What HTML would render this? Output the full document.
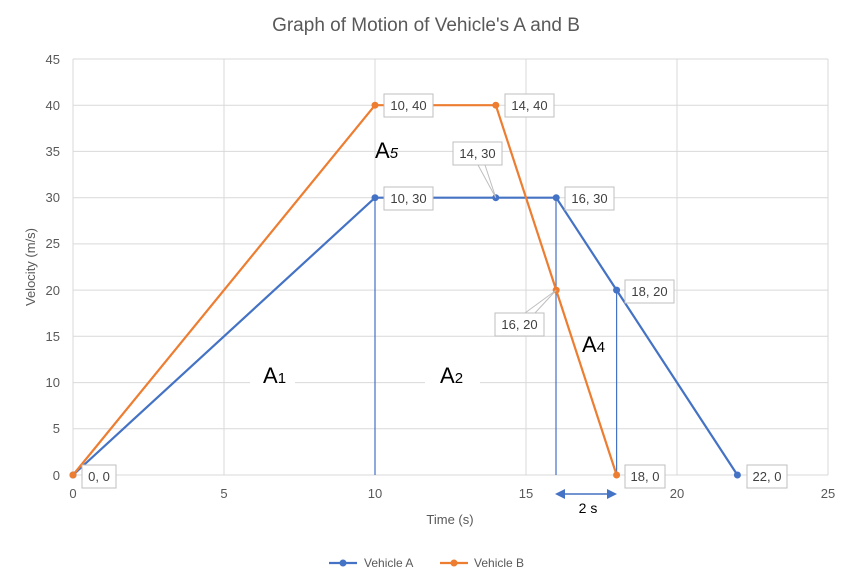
<!DOCTYPE html>
<html><head><meta charset="utf-8"><style>body{margin:0;background:#fff}svg{display:block;font-family:"Liberation Sans",sans-serif}</style></head><body>
<svg width="853" height="587" viewBox="0 0 853 587">
<rect width="853" height="587" fill="#fff"/>
<text x="426" y="31" text-anchor="middle" font-size="19" fill="#595959">Graph of Motion of Vehicle's A and B</text>
<g stroke="#d9d9d9" stroke-width="1">
<line x1="73" y1="59" x2="828" y2="59"/><line x1="73" y1="105.2" x2="828" y2="105.2"/><line x1="73" y1="151.4" x2="828" y2="151.4"/><line x1="73" y1="197.7" x2="828" y2="197.7"/><line x1="73" y1="243.9" x2="828" y2="243.9"/><line x1="73" y1="290.1" x2="828" y2="290.1"/><line x1="73" y1="336.3" x2="828" y2="336.3"/><line x1="73" y1="382.6" x2="828" y2="382.6"/><line x1="73" y1="428.8" x2="828" y2="428.8"/><line x1="73" y1="475" x2="828" y2="475"/>
<line x1="73" y1="59" x2="73" y2="475"/><line x1="224" y1="59" x2="224" y2="475"/><line x1="375" y1="59" x2="375" y2="475"/><line x1="526" y1="59" x2="526" y2="475"/><line x1="677" y1="59" x2="677" y2="475"/><line x1="828" y1="59" x2="828" y2="475"/>
</g>
<g font-size="13" fill="#595959" text-anchor="end">
<text x="60" y="64">45</text><text x="60" y="110">40</text><text x="60" y="156">35</text><text x="60" y="202">30</text><text x="60" y="248">25</text><text x="60" y="295">20</text><text x="60" y="341">15</text><text x="60" y="387">10</text><text x="60" y="433">5</text><text x="60" y="480">0</text>
</g>
<g font-size="13" fill="#595959" text-anchor="middle">
<text x="73" y="498">0</text><text x="224" y="498">5</text><text x="375" y="498">10</text><text x="526" y="498">15</text><text x="677" y="498">20</text><text x="828" y="498">25</text>
<text x="450" y="524">Time (s)</text>
<text transform="translate(35,267) rotate(-90)">Velocity (m/s)</text>
</g>
<g stroke="#4472c4" stroke-width="1.2">
<line x1="375" y1="197.7" x2="375" y2="475"/><line x1="556" y1="197.7" x2="556" y2="475"/><line x1="616.6" y1="290.1" x2="616.6" y2="475"/>
</g>
<rect x="250" y="360" width="45" height="30" fill="#fff"/>
<rect x="425" y="360" width="55" height="30" fill="#fff"/>
<text x="263" y="383" font-size="22" fill="#000">A<tspan font-size="15">1</tspan></text>
<text x="440" y="383" font-size="22" fill="#000">A<tspan font-size="15">2</tspan></text>
<text x="375" y="158" font-size="22" fill="#000">A<tspan font-size="15" font-style="italic">5</tspan></text>
<text x="582" y="352" font-size="22" fill="#000">A<tspan font-size="15">4</tspan></text>
<polyline points="73,475 375,197.7 495.8,197.7 556.2,197.7 616.6,290.1 737.4,475" fill="none" stroke="#4472c4" stroke-width="2.2"/>
<polyline points="73,475 375,105.2 495.8,105.2 556.2,290.1 616.6,475" fill="none" stroke="#ed7d31" stroke-width="2.2"/>
<g fill="#4472c4"><circle cx="73" cy="475" r="3.5"/><circle cx="375" cy="197.7" r="3.5"/><circle cx="495.8" cy="197.7" r="3.5"/><circle cx="556.2" cy="197.7" r="3.5"/><circle cx="616.6" cy="290.1" r="3.5"/><circle cx="737.4" cy="475" r="3.5"/></g>
<g fill="#ed7d31"><circle cx="73" cy="475" r="3.5"/><circle cx="375" cy="105.2" r="3.5"/><circle cx="495.8" cy="105.2" r="3.5"/><circle cx="556.2" cy="290.1" r="3.5"/><circle cx="616.6" cy="475" r="3.5"/></g>
<g stroke="#bfbfbf" fill="#fff" stroke-width="1">
<rect x="384" y="94" width="49" height="23"/><rect x="505" y="94" width="49" height="23"/>
<rect x="453" y="142" width="49" height="23"/><rect x="384" y="187" width="49" height="23"/>
<rect x="565" y="187" width="49" height="23"/><rect x="625" y="280" width="49" height="23"/>
<rect x="495" y="313" width="49" height="23"/><rect x="82" y="465" width="34" height="23"/>
<rect x="625" y="465" width="40" height="23"/><rect x="747" y="465" width="40" height="23"/>
<polyline points="478,165 495.8,197.7 485,165" fill="none"/>
<polyline points="525,313 556.2,290.1 535,313" fill="none"/>
</g>
<g font-size="13" fill="#404040" text-anchor="middle">
<text x="408.5" y="110">10, 40</text><text x="529.5" y="110">14, 40</text>
<text x="477.5" y="158">14, 30</text><text x="408.5" y="203">10, 30</text>
<text x="589.5" y="203">16, 30</text><text x="649.5" y="296">18, 20</text>
<text x="519.5" y="329">16, 20</text><text x="99" y="481">0, 0</text>
<text x="645" y="481">18, 0</text><text x="767" y="481">22, 0</text>
</g>
<line x1="563" y1="494" x2="610" y2="494" stroke="#4472c4" stroke-width="1.5"/>
<polygon points="555,494 565,489 565,499" fill="#4472c4"/><polygon points="617,494 607,489 607,499" fill="#4472c4"/>
<text x="588" y="513" font-size="14" text-anchor="middle" fill="#000">2 s</text>
<line x1="329" y1="563" x2="357" y2="563" stroke="#4472c4" stroke-width="2.2"/><circle cx="343" cy="563" r="3.5" fill="#4472c4"/>
<text x="364" y="567" font-size="12" fill="#595959">Vehicle A</text>
<line x1="440" y1="563" x2="468" y2="563" stroke="#ed7d31" stroke-width="2.2"/><circle cx="454" cy="563" r="3.5" fill="#ed7d31"/>
<text x="474" y="567" font-size="12" fill="#595959">Vehicle B</text>
</svg>
</body></html>
